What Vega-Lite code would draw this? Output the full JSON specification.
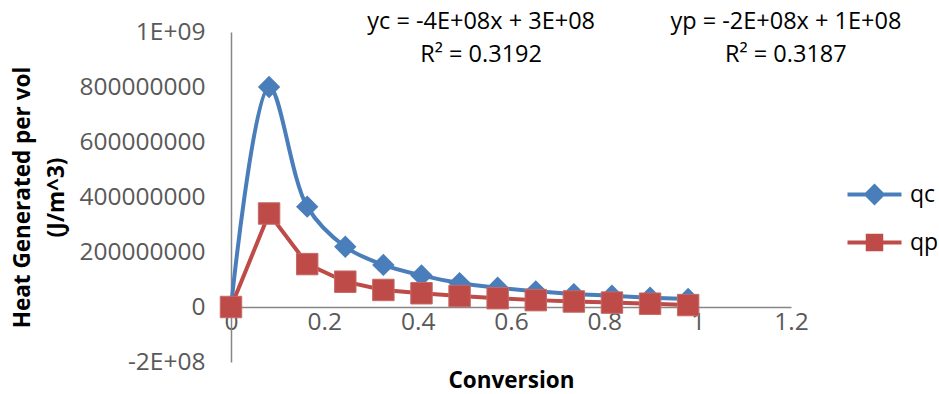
{
  "$schema": "https://vega.github.io/schema/vega-lite/v6.json",
  "width": 560,
  "height": 330,
  "autosize": {"type": "none"},
  "padding": {"left": 231, "top": 32, "right": 148, "bottom": 32},
  "background": "white",
  "config": {
    "view": {"stroke": null},
    "font": "Open Sans",
    "axis": {"grid": false, "ticks": false, "domainColor": "#868686", "domainWidth": 1.5, "labelColor": "#595959", "labelFont": "Open Sans", "labelFontSize": 24.5, "titleFont": "Open Sans", "titleFontSize": 22.5, "titleFontWeight": "bold", "titleColor": "#000000"}
  },
  "datasets": {
    "series": [
      {"conversion": 0, "q": 0, "series": "qc"},
      {"conversion": 0.0816, "q": 800000000, "series": "qc"},
      {"conversion": 0.1633, "q": 365000000, "series": "qc"},
      {"conversion": 0.2449, "q": 219000000, "series": "qc"},
      {"conversion": 0.3265, "q": 153000000, "series": "qc"},
      {"conversion": 0.4082, "q": 115000000, "series": "qc"},
      {"conversion": 0.4898, "q": 87000000, "series": "qc"},
      {"conversion": 0.5714, "q": 70000000, "series": "qc"},
      {"conversion": 0.6531, "q": 57000000, "series": "qc"},
      {"conversion": 0.7347, "q": 47000000, "series": "qc"},
      {"conversion": 0.8163, "q": 41000000, "series": "qc"},
      {"conversion": 0.898, "q": 34000000, "series": "qc"},
      {"conversion": 0.9796, "q": 29000000, "series": "qc"},
      {"conversion": 0, "q": 0, "series": "qp"},
      {"conversion": 0.0816, "q": 340000000, "series": "qp"},
      {"conversion": 0.1633, "q": 156000000, "series": "qp"},
      {"conversion": 0.2449, "q": 92000000, "series": "qp"},
      {"conversion": 0.3265, "q": 62000000, "series": "qp"},
      {"conversion": 0.4082, "q": 50000000, "series": "qp"},
      {"conversion": 0.4898, "q": 40000000, "series": "qp"},
      {"conversion": 0.5714, "q": 32000000, "series": "qp"},
      {"conversion": 0.6531, "q": 25000000, "series": "qp"},
      {"conversion": 0.7347, "q": 20000000, "series": "qp"},
      {"conversion": 0.8163, "q": 16000000, "series": "qp"},
      {"conversion": 0.898, "q": 12000000, "series": "qp"},
      {"conversion": 0.9796, "q": 7000000, "series": "qp"}
    ],
    "trend": [
      {"equation": "yc = -4E+08x + 3E+08", "r2": "R² = 0.3192", "series": "qc"},
      {"equation": "yp = -2E+08x + 1E+08", "r2": "R² = 0.3187", "series": "qp"}
    ]
  },
  "layer": [
    {
      "data": {"name": "series"},
      "encoding": {
        "x": {
          "field": "conversion", "type": "quantitative",
          "scale": {"domain": [0, 1.2], "nice": false},
          "axis": {"title": "Conversion", "offset": -55, "values": [0, 0.2, 0.4, 0.6, 0.8, 1, 1.2], "labelExpr": "format(datum.value, '~g')", "labelFlush": false, "labelPadding": 3, "titlePadding": 36}
        },
        "y": {
          "field": "q", "type": "quantitative",
          "scale": {"domain": [-200000000, 1000000000], "nice": false},
          "axis": {"title": ["Heat Generated per vol", "(J/m^3)"], "values": [-200000000, 0, 200000000, 400000000, 600000000, 800000000, 1000000000], "labelExpr": "datum.value == 1000000000 ? '1E+09' : datum.value == -200000000 ? '-2E+08' : format(datum.value, 'd')", "labelFlush": false, "labelPadding": 26, "titlePadding": 10, "titleLineHeight": 34}
        },
        "color": {
          "field": "series", "type": "nominal",
          "scale": {"domain": ["qc", "qp"], "range": ["#4A7EBB", "#BE4B48"]},
          "legend": {
            "title": null, "orient": "none", "legendX": 628, "legendY": 147,
            "padding": 0, "symbolSize": 729, "symbolStrokeWidth": 4, "labelOffset": 20,
            "rowPadding": 16, "labelFontSize": 23, "labelColor": "#000000", "labelFont": "Open Sans",
            "encode": {
              "symbols": {
                "update": {
                  "shape": {"signal": "datum.value == 'qc' ? 'M-2,0L2,0M-0.6,0L0,-0.6L0.6,0L0,0.6Z' : 'M-2,0L2,0M-0.5,-0.5L0.5,-0.5L0.5,0.5L-0.5,0.5Z'"},
                  "stroke": {"signal": "datum.value == 'qc' ? '#4A7EBB' : '#BE4B48'"},
                  "fill": {"signal": "datum.value == 'qc' ? '#4A7EBB' : '#BE4B48'"},
                  "strokeWidth": {"value": 4},
                  "opacity": {"value": 1},
                  "fillOpacity": {"value": 1}
                }
              }
            }
          }
        }
      },
      "layer": [
        {
          "transform": [{"filter": "datum.series == 'qc'"}],
          "mark": {"type": "line", "interpolate": "catmull-rom", "strokeWidth": 4}
        },
        {
          "transform": [{"filter": "datum.series == 'qc'"}],
          "mark": {"type": "point", "shape": "diamond", "filled": true, "size": 500, "opacity": 1}
        },
        {
          "transform": [{"filter": "datum.series == 'qp'"}],
          "mark": {"type": "line", "interpolate": "linear", "strokeWidth": 4}
        },
        {
          "transform": [{"filter": "datum.series == 'qp'"}],
          "mark": {"type": "point", "shape": "square", "filled": true, "size": 460, "opacity": 1, "stroke": "#C46A67", "strokeWidth": 1}
        }
      ]
    },
    {
      "data": {"name": "trend"},
      "transform": [{"filter": "datum.series == 'qc'"}],
      "mark": {"type": "text", "fontSize": 23.5, "align": "center", "baseline": "middle", "color": "#000000", "font": "Open Sans"},
      "encoding": {"x": {"datum": 0.536, "type": "quantitative"}, "y": {"datum": 1036000000, "type": "quantitative"}, "text": {"field": "equation"}}
    },
    {
      "data": {"name": "trend"},
      "transform": [{"filter": "datum.series == 'qc'"}],
      "mark": {"type": "text", "fontSize": 23.5, "align": "center", "baseline": "middle", "color": "#000000", "font": "Open Sans"},
      "encoding": {"x": {"datum": 0.536, "type": "quantitative"}, "y": {"datum": 916000000, "type": "quantitative"}, "text": {"field": "r2"}}
    },
    {
      "data": {"name": "trend"},
      "transform": [{"filter": "datum.series == 'qp'"}],
      "mark": {"type": "text", "fontSize": 23.5, "align": "center", "baseline": "middle", "color": "#000000", "font": "Open Sans"},
      "encoding": {"x": {"datum": 1.189, "type": "quantitative"}, "y": {"datum": 1036000000, "type": "quantitative"}, "text": {"field": "equation"}}
    },
    {
      "data": {"name": "trend"},
      "transform": [{"filter": "datum.series == 'qp'"}],
      "mark": {"type": "text", "fontSize": 23.5, "align": "center", "baseline": "middle", "color": "#000000", "font": "Open Sans"},
      "encoding": {"x": {"datum": 1.189, "type": "quantitative"}, "y": {"datum": 916000000, "type": "quantitative"}, "text": {"field": "r2"}}
    }
  ]
}
